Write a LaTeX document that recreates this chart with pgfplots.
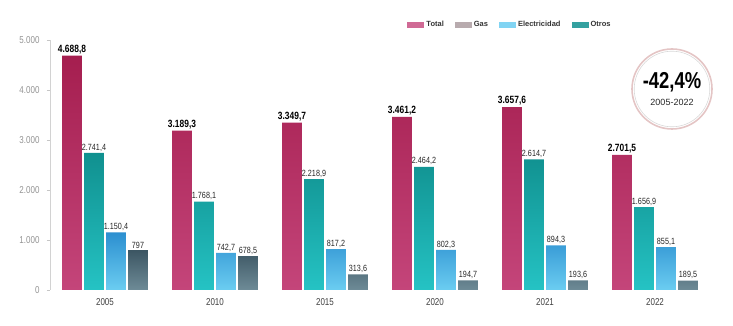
\documentclass[border=0pt]{standalone}
\usepackage{pgfplots}
\pgfplotsset{compat=1.18}
\usepackage{fontspec}
\setmainfont{Liberation Sans}
\newfontfamily\cond[FakeStretch=0.8]{Liberation Sans}
\definecolor{totT}{HTML}{A51E4F}
\definecolor{totB}{HTML}{C4457A}
\definecolor{teaT}{HTML}{10908F}
\definecolor{teaB}{HTML}{25C3C4}
\definecolor{bluT}{HTML}{2C8FD0}
\definecolor{bluB}{HTML}{6BCDF1}
\definecolor{gryT}{HTML}{3C5663}
\definecolor{gryB}{HTML}{6E8B97}
\definecolor{gasL}{HTML}{B8ABAE}
\begin{document}
\begin{tikzpicture}
\path[use as bounding box] (0,0) rectangle (733pt,326pt);
\begin{axis}[
  at={(50pt,36pt)}, anchor=south west,
  scale only axis, width=660pt, height=250pt,
  xmin=-0.5, xmax=5.5, ymin=0, ymax=5000,
  clip=false,
  axis x line*=bottom,
  x axis line style={draw=none},
  xtick={0,1,2,3,4,5},
  xticklabels={2005,2010,2015,2020,2021,2022},
  xtick style={draw=none},
  xticklabel style={font=\cond\fontsize{10}{11}\selectfont, text=black!75, yshift=-2pt},
  axis y line*=left,
  y axis line style={draw=gray!35, line width=0.6pt},
  ytick={0,1000,2000,3000,4000,5000},
  ytick style={draw=gray!45, line width=0.6pt},
  tick align=outside, major tick length=3pt,
  /pgf/number format/assume math mode=true,
  yticklabel style={font=\cond\fontsize{10}{11}\selectfont, text=gray!85, xshift=-4pt,
     /pgf/number format/1000 sep={.}},
  ybar, bar width=0.18,
  nodes near coords={\pgfmathprintnumber[use comma,1000 sep={.},fixed,precision=1]{\pgfplotspointmeta}},
  every node near coord/.append style={font=\cond\fontsize{9}{10}\selectfont, text=black!85, inner sep=1.5pt},
  legend image code/.code={\path[draw=none,#1] (0pt,-3pt) rectangle (17pt,3pt);},
  legend style={draw=none, fill=none, at={(0.697,1.06)}, anchor=center,
     font=\bfseries\fontsize{7.5}{8}\selectfont, text=black!80,
     /tikz/every even column/.append style={column sep=9pt}},
  legend columns=4,
]
\addlegendimage{fill=totB!80, draw=none}
\addlegendimage{fill=gasL, draw=none}
\addlegendimage{fill=bluB!85, draw=none}
\addlegendimage{fill=teaT!85, draw=none}
\legend{Total,Gas,Electricidad,Otros}

\addplot[draw=none, top color=totT, bottom color=totB, bar shift=-0.3,
  every node near coord/.append style={font=\cond\bfseries\fontsize{10.5}{11}\selectfont, text=black}]
  coordinates {(0,4688.8) (1,3189.3) (2,3349.7) (3,3461.2) (4,3657.6) (5,2701.5)};
\addplot[draw=none, top color=teaT, bottom color=teaB, bar shift=-0.1]
  coordinates {(0,2741.4) (1,1768.1) (2,2218.9) (3,2464.2) (4,2614.7) (5,1656.9)};
\addplot[draw=none, top color=bluT, bottom color=bluB, bar shift=0.1]
  coordinates {(0,1150.4) (1,742.7) (2,817.2) (3,802.3) (4,894.3) (5,855.1)};
\addplot[draw=none, top color=gryT, bottom color=gryB, bar shift=0.3]
  coordinates {(0,797) (1,678.5) (2,313.6) (3,194.7) (4,193.6) (5,189.5)};
\end{axis}
\draw[draw=pink!70!gray!70, line width=1.6pt] (672pt,237pt) circle (40pt);
\draw[draw=gray!30, line width=0.6pt] (672pt,237pt) circle (37.8pt);
\node[font=\cond\bfseries\fontsize{23}{24}\selectfont] at (672pt,244pt) {-42,4\%};
\node[font=\fontsize{9}{10}\selectfont, text=black!85] at (672pt,224pt) {2005-2022};
\end{tikzpicture}
\end{document}
